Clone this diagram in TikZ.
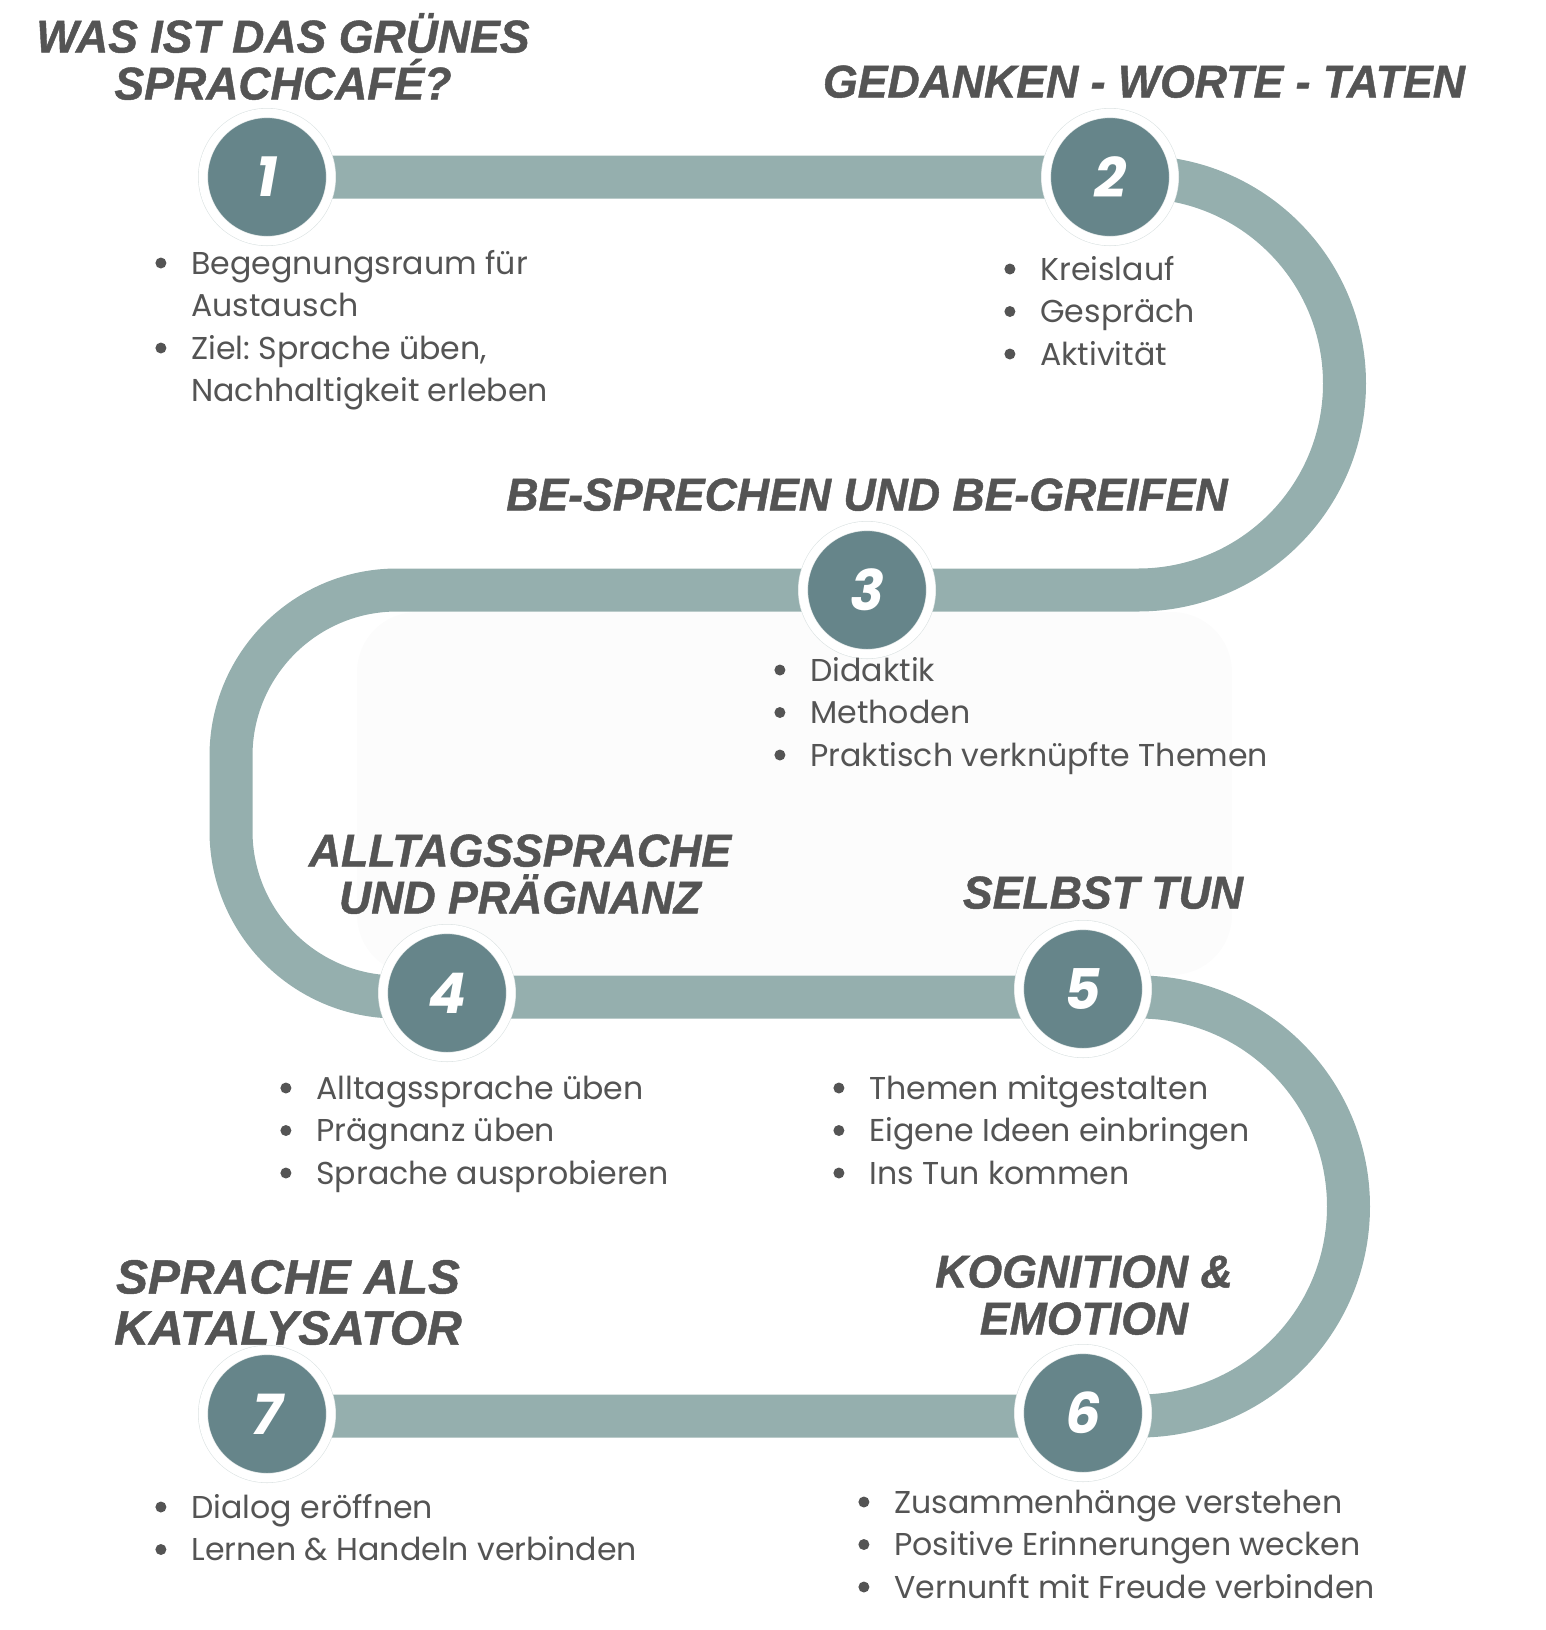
\documentclass[tikz,border=0pt]{standalone}
\usepackage{fontspec}
\setmainfont{Poppins}
\newfontfamily\headfont[FakeStretch=0.97,FakeBold=1]{Liberation Sans}
\newfontfamily\headwide[FakeStretch=1.0,FakeBold=1]{Liberation Sans}

\definecolor{band}{HTML}{95AFAE}
\definecolor{disc}{HTML}{66858A}
\definecolor{ink}{HTML}{545454}
\definecolor{rim}{HTML}{DCE3E3}
\definecolor{pane}{HTML}{FCFCFC}

\newcommand{\bul}{\makebox[18pt][l]{\raisebox{2.75pt}{\tikz\fill[ink] (0,0) circle (2.75pt);}}}
\newcommand{\gap}{\hspace*{18pt}}
\newcommand{\zwei}[2]{\begin{tabular}[t]{@{}c@{}}\smash{#1}\\\smash{#2}\end{tabular}}

\tikzset{
  station/.style={circle,fill=disc,draw=rim,double=white,line width=0.3pt,double distance=4.4pt,
    minimum size=64pt,inner sep=0pt,text=white,font=\fontsize{28}{28}\selectfont\bfseries\itshape},
  heading/.style={anchor=base,inner sep=0pt,text=ink,
    font=\headfont\fontsize{23}{23.5}\selectfont\bfseries\itshape},
  points/.style={anchor=base west,inner sep=0pt,text=ink,
    font=\fontsize{15.8}{21.25}\selectfont\frenchspacing},
  road/.style={draw=band,line width=21.5pt},
}

\begin{document}
\begin{tikzpicture}[x=0.5pt,y=-0.5pt]
\useasboundingbox (0,0) rectangle (1546,1630);

%Hintergrund
\fill[pane,rounded corners=30pt] (357,612) rectangle (1232,975);

%Stationen
\coordinate (p1) at (267,177);
\coordinate (p2) at (1110,177);
\coordinate (p3) at (867,590);
\coordinate (p4) at (447,993);
\coordinate (p5) at (1083,989);
\coordinate (p6) at (1083,1413);
\coordinate (p7) at (267,1414);

%Weg
\draw[road] (p1) -- (1138,177) arc (-90:90:206.5) -- (397,590)
  arc (-90:-180:166) -- (231,831) arc (180:90:166) -- (1139,997)
  arc (-90:90:209.5) -- (p7 |- 0,1416);

\node[station] (n1) at (p1) {1};
\node[station] (n2) at (p2) {2};
\node[station] (n3) at (p3) {3};
\node[station] (n4) at (p4) {4};
\node[station] (n5) at (p5) {5};
\node[station] (n6) at (p6) {6};
\node[station] (n7) at (p7) {7};

%Titel
\node[heading] (h1) at (283,52.5) {\zwei{WAS IST DAS GRÜNES}{SPRACHCAFÉ?}};
\node[heading] (h2) at (1144,97.5) {GEDANKEN - WORTE - TATEN};
\node[heading] (h3) at (867,510.5) {BE-SPRECHEN UND BE-GREIFEN};
\node[heading] (h4) at (520,866.5) {\zwei{ALLTAGSSPRACHE}{UND PRÄGNANZ}};
\node[heading] (h5) at (1103,908.5) {SELBST TUN};
\node[heading] (h6) at (1084,1287.5) {\zwei{KOGNITION \&}{EMOTION}};
\node[heading,font=\headwide\fontsize{24}{25.5}\selectfont\bfseries\itshape] (h7) at (288,1293.5)
  {\zwei{SPRACHE ALS}{KATALYSATOR}};

%Punkte
\node[points] (l1) at (155,274) {\begin{tabular}[t]{@{}l@{}}
  \bul Begegnungsraum für\\ \gap Austausch\\
  \bul Ziel: Sprache üben,\\ \gap Nachhaltigkeit erleben\end{tabular}};
\node[points] (l2) at (1004,280) {\begin{tabular}[t]{@{}l@{}}
  \bul Kreislauf\\ \bul Gespräch\\ \bul Aktivität\end{tabular}};
\node[points] (l3) at (774,681) {\begin{tabular}[t]{@{}l@{}}
  \bul Didaktik\\ \bul Methoden\\ \bul Praktisch verknüpfte Themen\end{tabular}};
\node[points] (l4) at (280,1099) {\begin{tabular}[t]{@{}l@{}}
  \bul Alltagssprache üben\\ \bul Prägnanz üben\\ \bul Sprache ausprobieren\end{tabular}};
\node[points] (l5) at (833,1099) {\begin{tabular}[t]{@{}l@{}}
  \bul Themen mitgestalten\\ \bul Eigene Ideen einbringen\\ \bul Ins Tun kommen\end{tabular}};
\node[points] (l6) at (858,1513) {\begin{tabular}[t]{@{}l@{}}
  \bul Zusammenhänge verstehen\\ \bul Positive Erinnerungen wecken\\
  \bul Vernunft mit Freude verbinden\end{tabular}};
\node[points] (l7) at (155,1518) {\begin{tabular}[t]{@{}l@{}}
  \bul Dialog eröffnen\\ \bul Lernen \& Handeln verbinden\end{tabular}};

\end{tikzpicture}
\end{document}
